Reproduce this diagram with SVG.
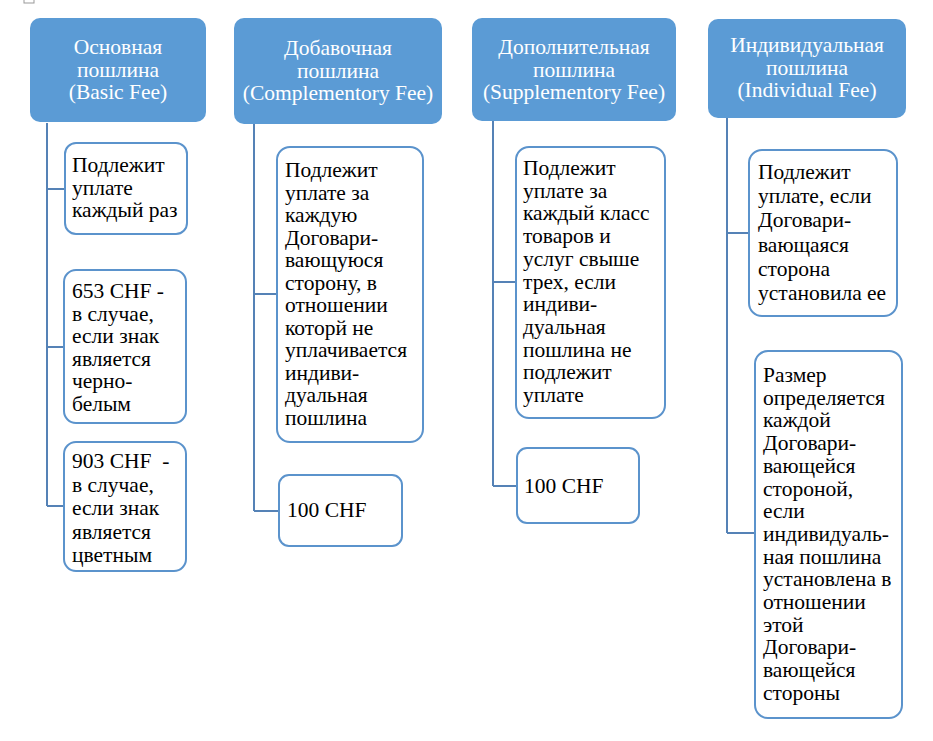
<svg xmlns="http://www.w3.org/2000/svg" width="933" height="741" viewBox="0 0 933 741">
<style>
.hdr{fill:#5b9bd5;stroke:none}
.box{fill:#fff;stroke:#5b93cc;stroke-width:2}
.ht{font-size:21.5px;fill:#fff;text-anchor:middle}
.bt{font-size:21.5px;fill:#000}
.con{fill:none;stroke:#5582b6;stroke-width:2}
</style>
<rect width="933" height="741" fill="#fff"/>
<rect x="24" y="-6" width="10" height="9" fill="none" stroke="#999" stroke-width="1"/>
<g id="connectors">
<path class="con" d="M47,123 V506 M47,189 H65 M47,347 H64 M47,506 H64"/>
<path class="con" d="M254,124 V511 M254,294 H277 M254,511 H279"/>
<path class="con" d="M493,121 V486 M493,282 H516 M493,486 H517"/>
<path class="con" d="M727,118 V533 M727,233 H749 M727,533 H755"/>
</g>
<g font-family="Liberation Serif, Tinos, Times New Roman, DejaVu Serif, serif">
<g id="h1">
<rect class="hdr" x="30" y="18" width="176" height="104" rx="10"/>
<text class="ht" x="118" y="54">Основная</text>
<text class="ht" x="118" y="76.5">пошлина</text>
<text class="ht" x="118" y="99">(Basic Fee)</text>
</g>
<g id="h2">
<rect class="hdr" x="234" y="18" width="208" height="106" rx="10"/>
<text class="ht" x="338" y="55">Добавочная</text>
<text class="ht" x="338" y="77.5">пошлина</text>
<text class="ht" x="338" y="100">(Complementory Fee)</text>
</g>
<g id="h3">
<rect class="hdr" x="472" y="18" width="204" height="103" rx="10"/>
<text class="ht" x="574" y="54">Дополнительная</text>
<text class="ht" x="574" y="76.5">пошлина</text>
<text class="ht" x="574" y="99">(Supplementory Fee)</text>
</g>
<g id="h4">
<rect class="hdr" x="708" y="19" width="198" height="99" rx="10"/>
<text class="ht" x="807" y="52">Индивидуальная</text>
<text class="ht" x="807" y="74.5">пошлина</text>
<text class="ht" x="807" y="97">(Individual Fee)</text>
</g>
<g id="n1a">
<rect class="box" x="65" y="143" width="122" height="91" rx="11"/>
<text class="bt" x="72" y="172">Подлежит<tspan x="72" dy="22.5">уплате</tspan><tspan x="72" dy="22.5">каждый раз</tspan></text>
</g>
<g id="n1b">
<rect class="box" x="64" y="270" width="122" height="153" rx="12"/>
<text class="bt" x="72" y="298">653 CHF -<tspan x="72" dy="22.5">в случае,</tspan><tspan x="72" dy="22.5">если знак</tspan><tspan x="72" dy="22.5">является</tspan><tspan x="72" dy="22.5">черно-</tspan><tspan x="72" dy="22.5">белым</tspan></text>
</g>
<g id="n1c">
<rect class="box" x="64" y="442" width="122" height="129" rx="12"/>
<text class="bt" x="72" y="468" xml:space="preserve">903 CHF  -<tspan x="72" dy="23.5">в случае,</tspan><tspan x="72" dy="23.5">если знак</tspan><tspan x="72" dy="23.5">является</tspan><tspan x="72" dy="23.5">цветным</tspan></text>
</g>
<g id="n2a">
<rect class="box" x="277" y="147" width="146" height="295" rx="13"/>
<text class="bt" x="285" y="177">Подлежит<tspan x="285" dy="22.5">уплате за</tspan><tspan x="285" dy="22.5">каждую</tspan><tspan x="285" dy="22.5">Договари-</tspan><tspan x="285" dy="22.5">вающуюся</tspan><tspan x="285" dy="22.5">сторону, в</tspan><tspan x="285" dy="22.5">отношении</tspan><tspan x="285" dy="22.5">которй не</tspan><tspan x="285" dy="22.5">уплачивается</tspan><tspan x="285" dy="22.5">индиви-</tspan><tspan x="285" dy="22.5">дуальная</tspan><tspan x="285" dy="22.5">пошлина</tspan></text>
</g>
<g id="n2b">
<rect class="box" x="279" y="475" width="123" height="71" rx="10"/>
<text class="bt" x="287" y="517">100 CHF</text>
</g>
<g id="n3a">
<rect class="box" x="516" y="147" width="149" height="271" rx="13"/>
<text class="bt" x="523" y="175">Подлежит<tspan x="523" dy="22.7">уплате за</tspan><tspan x="523" dy="22.7">каждый класс</tspan><tspan x="523" dy="22.7">товаров и</tspan><tspan x="523" dy="22.7">услуг свыше</tspan><tspan x="523" dy="22.7">трех, если</tspan><tspan x="523" dy="22.7">индиви-</tspan><tspan x="523" dy="22.7">дуальная</tspan><tspan x="523" dy="22.7">пошлина не</tspan><tspan x="523" dy="22.7">подлежит</tspan><tspan x="523" dy="22.7">уплате</tspan></text>
</g>
<g id="n3b">
<rect class="box" x="517" y="448" width="122" height="75" rx="10"/>
<text class="bt" x="524" y="493">100 CHF</text>
</g>
<g id="n4a">
<rect class="box" x="749" y="150" width="148" height="166" rx="13"/>
<text class="bt" x="758" y="179">Подлежит<tspan x="758" dy="24.2">уплате, если</tspan><tspan x="758" dy="24.2">Договари-</tspan><tspan x="758" dy="24.2">вающаяся</tspan><tspan x="758" dy="24.2">сторона</tspan><tspan x="758" dy="24.2">установила ее</tspan></text>
</g>
<g id="n4b">
<rect class="box" x="755" y="351" width="147" height="367" rx="13"/>
<text class="bt" x="763" y="382">Размер<tspan x="763" dy="22.7">определяется</tspan><tspan x="763" dy="22.7">каждой</tspan><tspan x="763" dy="22.7">Договари-</tspan><tspan x="763" dy="22.7">вающейся</tspan><tspan x="763" dy="22.7">стороной,</tspan><tspan x="763" dy="22.7">если</tspan><tspan x="763" dy="22.7">индивидуаль-</tspan><tspan x="763" dy="22.7">ная пошлина</tspan><tspan x="763" dy="22.7">установлена в</tspan><tspan x="763" dy="22.7">отношении</tspan><tspan x="763" dy="22.7">этой</tspan><tspan x="763" dy="22.7">Договари-</tspan><tspan x="763" dy="22.7">вающейся</tspan><tspan x="763" dy="22.7">стороны</tspan></text>
</g>
</g>
</svg>
